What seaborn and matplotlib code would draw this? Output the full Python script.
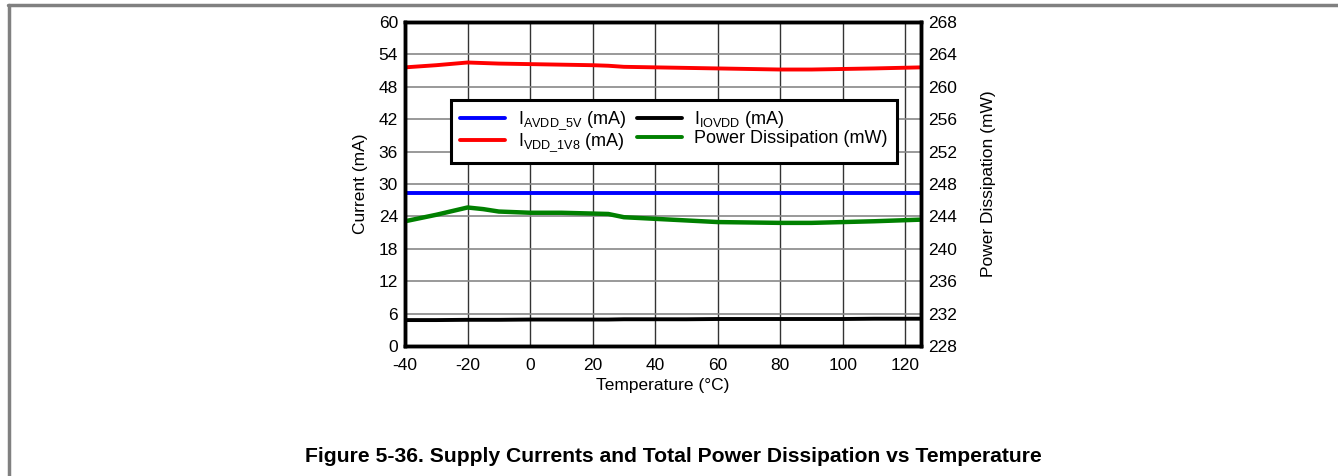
import matplotlib
matplotlib.use("Agg")
import matplotlib.pyplot as plt
import seaborn as sns
import pandas as pd
from matplotlib.lines import Line2D

sns.set_theme(style="white")
plt.rcParams['font.family'] = ['Liberation Sans', 'DejaVu Sans']
plt.rcParams['mathtext.fontset'] = 'custom'
plt.rcParams['mathtext.rm'] = 'Liberation Sans'
plt.rcParams['axes.unicode_minus'] = False
for k in ['text.color', 'axes.labelcolor', 'xtick.color', 'ytick.color']:
    plt.rcParams[k] = 'black'

# Data
temp_c = [-40, -30, -20, -15, -10, 0, 10, 20, 25, 30, 40, 50, 60, 70, 80, 90, 100, 110, 125]
i_avdd_5v = [28.3] * 19
i_vdd_1v8 = [51.6, 52.0, 52.5, 52.4, 52.3, 52.2, 52.1, 52.0, 51.9, 51.7, 51.6, 51.5, 51.4, 51.3, 51.2, 51.2, 51.3, 51.4, 51.6]
i_iovdd = [4.8, 4.8, 4.85, 4.85, 4.85, 4.9, 4.9, 4.9, 4.9, 4.95, 4.95, 4.95, 5.0, 5.0, 5.0, 5.0, 5.0, 5.05, 5.05]
power_mw = [243.4, 244.2, 245.1, 244.9, 244.6, 244.45, 244.45, 244.35, 244.3, 243.9, 243.7, 243.5, 243.3, 243.25, 243.2, 243.2, 243.3, 243.4, 243.6]

x_ticks = [-40, -20, 0, 20, 40, 60, 80, 100, 120]
left_ticks = [0, 6, 12, 18, 24, 30, 36, 42, 48, 54, 60]
right_ticks = [228, 232, 236, 240, 244, 248, 252, 256, 260, 264, 268]

lbl_avdd = r'I$_{\mathregular{AVDD\_5V}}$ (mA)'
lbl_vdd = r'I$_{\mathregular{VDD\_1V8}}$ (mA)'
lbl_io = r'I$_{\mathregular{IOVDD}}$ (mA)'
lbl_pwr = 'Power Dissipation (mW)'

df = pd.DataFrame({'T': temp_c, 'avdd': i_avdd_5v, 'vdd': i_vdd_1v8,
                   'io': i_iovdd, 'pwr': power_mw})

fig = plt.figure(figsize=(13.38, 4.76), dpi=100)
ax = fig.add_axes([405/1338, 1-346/476, (921-405)/1338, (346-22)/476])
ax2 = ax.twinx()

lw = 2.8
sns.lineplot(data=df, x='T', y='avdd', ax=ax, color='#0000ff', lw=lw)
sns.lineplot(data=df, x='T', y='vdd', ax=ax, color='#ff0000', lw=lw)
sns.lineplot(data=df, x='T', y='io', ax=ax, color='#000000', lw=lw)
sns.lineplot(data=df, x='T', y='pwr', ax=ax2, color='#008000', lw=lw + 0.4)
for line in ax.lines + ax2.lines:
    line.set_solid_joinstyle('round')

fs = 12.5
ax.set_xlim(-40, 125)
ax.set_ylim(0, 60)
ax2.set_ylim(228, 268)
ax.set_xticks(x_ticks)
ax.set_yticks(left_ticks)
ax2.set_yticks(right_ticks)
ax.tick_params(axis='x', length=0, labelsize=fs, pad=9)
ax.tick_params(axis='y', length=0, labelsize=fs, pad=5)
ax2.tick_params(axis='y', length=0, labelsize=fs, pad=5)

ax.grid(True, axis='x', color='#333333', lw=1.0)
ax.grid(True, axis='y', color='#888888', lw=1.2)
ax.set_axisbelow(True)

for a in (ax, ax2):
    for s in a.spines.values():
        s.set_linewidth(2.5)
        s.set_color('black')

ax.set_xlabel('Temperature (°C)', fontsize=fs, labelpad=3)
ax.set_ylabel('Current (mA)', fontsize=fs, labelpad=8)
ax2.set_ylabel('Power Dissipation (mW)', fontsize=fs, labelpad=17)

handles = [Line2D([], [], color='#0000ff', lw=lw),
           Line2D([], [], color='#ff0000', lw=lw),
           Line2D([], [], color='#000000', lw=lw),
           Line2D([], [], color='#008000', lw=lw)]
labels = [lbl_avdd, lbl_vdd, lbl_io, lbl_pwr]
leg = ax2.legend(handles, labels, ncol=2, loc='upper left',
                 bbox_to_anchor=((451-405)/516, (346-100)/324),
                 fontsize=fs + 0.5, frameon=True, fancybox=False, edgecolor='black',
                 framealpha=1, borderpad=0.5, labelspacing=0.0,
                 handlelength=2.5, handletextpad=0.7, columnspacing=0.6,
                 borderaxespad=0)
leg.get_frame().set_linewidth(2.2)

# page frame
fig.add_artist(Line2D([8/1338, 1], [1-5/476, 1-5/476], color='#808080', lw=2.5, transform=fig.transFigure))
fig.add_artist(Line2D([9/1338, 9/1338], [0, 1-5/476], color='#808080', lw=2.5, transform=fig.transFigure))

fig.text(673/1338, 1-457/476, 'Figure 5-36. Supply Currents and Total Power Dissipation vs Temperature',
         ha='center', va='center', fontsize=15.2, fontweight='bold')

fig.savefig('out.png', dpi=100)
